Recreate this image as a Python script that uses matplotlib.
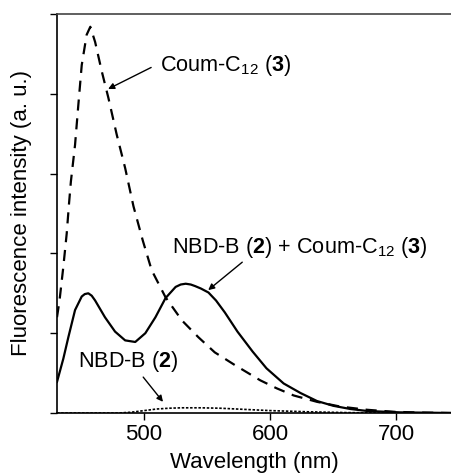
import matplotlib
matplotlib.use("Agg")
import matplotlib.pyplot as plt

plt.rcParams['font.family'] = ['Liberation Sans', 'DejaVu Sans']
plt.rcParams['mathtext.fontset'] = 'custom'
plt.rcParams['mathtext.rm'] = 'Liberation Sans'
plt.rcParams['mathtext.bf'] = 'Liberation Sans:bold'
plt.rcParams['mathtext.it'] = 'Liberation Sans:italic'

# Mixture NBD-B (2) + Coum-C12 (3) (solid)
wl_mix = [431, 436, 440, 445.3, 450.6, 453, 455.8, 458.5, 461.2, 469, 477, 485, 493, 501, 509, 517,
          525, 529, 533, 537, 540.5, 545, 551, 557, 564, 574, 586, 597, 610.6, 624, 637, 650,
          663.5, 677, 703, 744]
int_mix = [0.39, 0.68, 0.95, 1.29, 1.46, 1.49, 1.50, 1.47, 1.41, 1.20, 1.02, 0.91, 0.89, 1.00, 1.20, 1.44,
           1.58, 1.61, 1.62, 1.61, 1.59, 1.56, 1.51, 1.41, 1.26, 1.02, 0.77, 0.56, 0.37, 0.25, 0.15, 0.09,
           0.05, 0.025, 0.008, 0.0]

# Coum-C12 (3) (dashed)
wl_coum = [431, 433, 436, 438.7, 440.5, 442, 445.3, 447.9, 450.6, 454.5, 457.4, 461.2, 466.5, 471.7,
           478.3, 485, 491.6, 499, 506, 517, 530, 543, 556, 572, 592, 605, 618.5, 637, 655.6, 677,
           698, 720, 744]
int_coum = [1.20, 1.41, 1.83, 2.25, 2.62, 2.90, 3.36, 3.86, 4.36, 4.74, 4.84, 4.65, 4.28, 3.95,
            3.49, 3.07, 2.59, 2.16, 1.79, 1.45, 1.16, 0.95, 0.76, 0.60, 0.41, 0.31, 0.22, 0.14, 0.08, 0.04,
            0.015, 0.005, 0.0]

# NBD-B (2) (dotted)
wl_nbd = [431, 480, 490, 500, 510, 520, 530, 545, 560, 580, 600, 630, 660, 690, 744]
int_nbd = [0.0, 0.0, 0.01, 0.03, 0.05, 0.06, 0.065, 0.065, 0.06, 0.045, 0.03, 0.015, 0.005, 0.0, 0.0]

x_ticks = [500, 600, 700]
y_ticks = [0, 1, 2, 3, 4, 5]

fig = plt.figure(figsize=(4.52, 4.75), dpi=100)
ax = fig.add_axes([57/452, 1-413/475, 1-57/452, (413-14)/475])

ax.plot(wl_coum, int_coum, color='black', lw=1.6, ls=(0, (5, 3.5)))
ax.plot(wl_mix, int_mix, color='black', lw=1.6, ls='-')
ax.plot(wl_nbd, int_nbd, color='black', lw=1.2, ls=(0, (1.5, 1)))

ax.set_xlim(431, 744)
ax.set_ylim(0, 5)
ax.set_xticks(x_ticks)
ax.set_yticks(y_ticks)
ax.set_yticklabels([])
ax.tick_params(direction='out', length=5, width=1, labelsize=16, pad=3)
ax.spines['right'].set_visible(False)
for s in ['left', 'bottom', 'top']:
    ax.spines[s].set_linewidth(1.2)
ax.spines['top'].set_color('#444444')

ax.set_xlabel('Wavelength (nm)', fontsize=16, labelpad=5)
ax.set_ylabel('Fluorescence intensity (a. u.)', fontsize=16, labelpad=10)

ap = dict(arrowstyle='-|>', color='black', lw=1, mutation_scale=9, shrinkA=0, shrinkB=0)
ax.annotate('', xy=(471.5, 4.06), xytext=(505.6, 4.33), arrowprops=ap)
ax.annotate('', xy=(550.8, 1.54), xytext=(577.8, 1.89), arrowprops=ap)
ax.annotate('', xy=(515, 0.14), xytext=(499.3, 0.45), arrowprops=ap)

ax.text(512.7, 4.35, r'Coum-C$_{12}$ ($\mathbf{3}$)', fontsize=15.6, ha='left', va='center')
ax.text(522, 2.08, r'NBD-B ($\mathbf{2}$) + Coum-C$_{12}$ ($\mathbf{3}$)', fontsize=15.6, ha='left', va='center')
ax.text(447.7, 0.64, r'NBD-B ($\mathbf{2}$)', fontsize=15.6, ha='left', va='center')

fig.savefig('out.png', dpi=100)
